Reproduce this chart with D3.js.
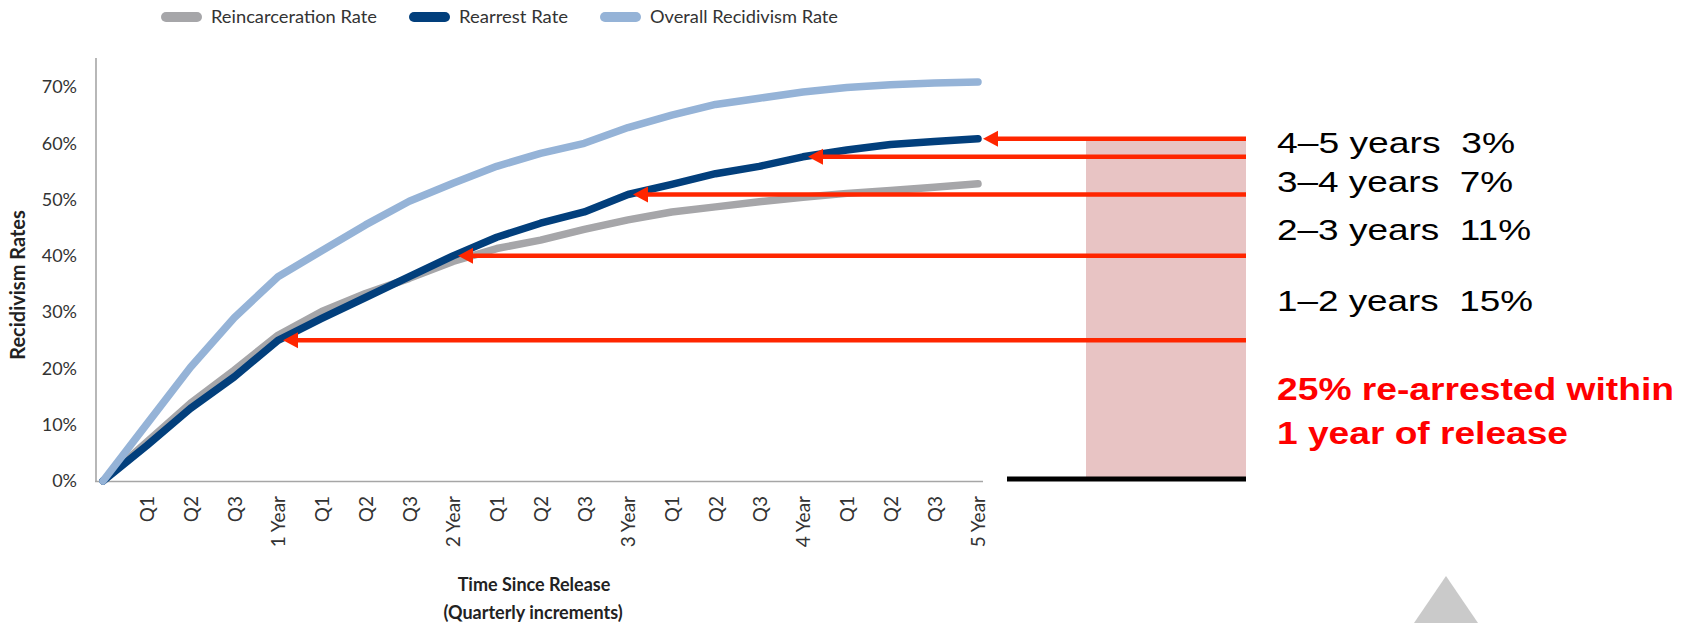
<!DOCTYPE html>
<html>
<head>
<meta charset="utf-8">
<script src="https://cdn.jsdelivr.net/npm/d3@7"></script>
<style>
  html, body { margin: 0; padding: 0; background: #fff; }
  svg { display: block; }
  text { white-space: pre; }
</style>
</head>
<body>
<svg id="chart" width="1692" height="623"></svg>
<script>
// Quarters since release (0 = release, 20 = five years)
const quarters = d3.range(0, 21);
const quarterLabels = ["Q1", "Q2", "Q3", "1 Year", "Q1", "Q2", "Q3", "2 Year", "Q1", "Q2", "Q3", "3 Year",
                       "Q1", "Q2", "Q3", "4 Year", "Q1", "Q2", "Q3", "5 Year"];
const yTicks = [0, 10, 20, 30, 40, 50, 60, 70];

// Cumulative rates, percent
const reincarceration = [0, 6.9, 13.8, 19.7, 25.9, 30.1, 33.3, 36.0, 39.0, 41.3, 42.8,
                         44.7, 46.4, 47.8, 48.7, 49.6, 50.4, 51.1, 51.6, 52.2, 52.8];
const rearrest = [0, 6.3, 12.9, 18.5, 25.0, 28.9, 32.6, 36.3, 40.0, 43.3, 45.8,
                  47.8, 50.9, 52.7, 54.6, 55.9, 57.6, 58.8, 59.8, 60.3, 60.8];
const overall = [0, 10.1, 20.2, 29.0, 36.3, 40.9, 45.5, 49.7, 52.9, 55.9, 58.2,
                 60.0, 62.8, 65.0, 66.9, 68.0, 69.1, 69.9, 70.4, 70.7, 70.9];

const seriesNames = ["Reincarceration Rate", "Rearrest Rate", "Overall Recidivism Rate"];
const seriesColors = ["#a6a6a9", "#023f7c", "#95b3d7"];

// Year-by-year increments called out on the right
const calloutYears = [5, 4, 3, 2];
const calloutLabels = ["4\u20135 years  3%", "3\u20134 years  7%", "2\u20133 years  11%", "1\u20132 years  15%"];
const headline = ["25% re-arrested within", "1 year of release"];

const svg = d3.select("#chart");
const font = "Lato, 'Open Sans', sans-serif";

const x = d3.scaleLinear().domain([0, 20]).range([103, 978]);
const y = d3.scaleLinear().domain([0, 70]).range([481, 87]);

// Axes lines
svg.append("line").attr("x1", 96).attr("x2", 96).attr("y1", 58).attr("y2", 481.5)
  .attr("stroke", "#a6a6a6").attr("stroke-width", 1.6);
svg.append("line").attr("x1", 95).attr("x2", 983).attr("y1", 481.5).attr("y2", 481.5)
  .attr("stroke", "#a6a6a6").attr("stroke-width", 1.6);

// Y axis labels
const yAxis = svg.append("g").attr("transform", "translate(96,0)")
  .call(d3.axisLeft(y).tickValues(yTicks).tickSize(0).tickPadding(19).tickFormat(d => d + "%"));
yAxis.select(".domain").remove();
yAxis.selectAll("text").attr("font-family", font).attr("font-size", 18).attr("fill", "#333");

// X axis labels, rotated
const xAxis = svg.append("g").attr("transform", "translate(0,481)")
  .call(d3.axisBottom(x).tickValues(quarters.slice(1)).tickSize(0)
    .tickFormat(d => quarterLabels[d - 1]));
xAxis.select(".domain").remove();
xAxis.selectAll("text")
  .attr("font-family", font).attr("font-size", 19).attr("fill", "#333")
  .attr("transform", "rotate(-90)")
  .attr("text-anchor", "end")
  .attr("x", -15).attr("y", 0).attr("dy", "0.36em");

// Axis titles
svg.append("text")
  .attr("transform", "translate(25,285) rotate(-90)")
  .attr("text-anchor", "middle")
  .attr("font-family", font).attr("font-weight", "bold").attr("font-size", 20).attr("fill", "#222")
  .text("Recidivism Rates");
svg.append("text").attr("x", 534).attr("y", 591).attr("text-anchor", "middle")
  .attr("font-family", font).attr("font-weight", "bold").attr("font-size", 18).attr("fill", "#222")
  .text("Time Since Release");
svg.append("text").attr("x", 533).attr("y", 619).attr("text-anchor", "middle")
  .attr("font-family", font).attr("font-weight", "bold").attr("font-size", 18).attr("fill", "#222")
  .text("(Quarterly increments)");

// Legend
const legendX = [161, 409, 600];
const legendW = [166, 109, 188];
seriesNames.forEach((name, k) => {
  svg.append("rect").attr("x", legendX[k]).attr("y", 12).attr("width", 41).attr("height", 10)
    .attr("rx", 5).attr("fill", seriesColors[k]);
  svg.append("text").attr("x", legendX[k] + 50).attr("y", 23)
    .attr("font-family", font).attr("font-size", 18).attr("fill", "#333")
    .attr("textLength", legendW[k]).attr("lengthAdjust", "spacingAndGlyphs")
    .text(name);
});

// Series lines
const line = d3.line().x((d, i) => x(i)).y(d => y(d));
[reincarceration, rearrest, overall].forEach((vals, k) => {
  svg.append("path").datum(vals).attr("d", line)
    .attr("fill", "none").attr("stroke", seriesColors[k]).attr("stroke-width", 7.5)
    .attr("stroke-linecap", "round").attr("stroke-linejoin", "round");
});

// Shaded band and baseline on the right
const bandLeft = 1086, bandRight = 1246;
svg.append("rect").attr("x", bandLeft).attr("y", y(rearrest[20]) + 1)
  .attr("width", bandRight - bandLeft).attr("height", 477 - y(rearrest[20]) - 1)
  .attr("fill", "#e8c4c4");
svg.append("line").attr("x1", 1007).attr("x2", bandRight).attr("y1", 479).attr("y2", 479)
  .attr("stroke", "#000").attr("stroke-width", 5);

// Arrows pointing at the rearrest rate at each full year
const red = "#ff2600";
[1, 2, 3, 4, 5].forEach(yr => {
  const yy = y(rearrest[yr * 4]);
  const tip = x(yr * 4) + 5;
  const headLen = 15, headHalf = 8;
  svg.append("line").attr("x1", tip + headLen - 1).attr("x2", bandRight)
    .attr("y1", yy).attr("y2", yy).attr("stroke", red).attr("stroke-width", 4.5);
  svg.append("path")
    .attr("d", `M${tip},${yy} L${tip + headLen},${yy - headHalf} L${tip + headLen},${yy + headHalf} Z`)
    .attr("fill", red);
});

// Increment labels
const calloutBase = [153, 192, 240, 311];
const calloutWidth = [238, 236, 254, 256];
calloutLabels.forEach((t, k) => {
  svg.append("text").attr("x", 1277).attr("y", calloutBase[k])
    .attr("font-family", "'Liberation Sans', Arial, sans-serif").attr("font-size", 30).attr("fill", "#000")
    .attr("textLength", calloutWidth[k]).attr("lengthAdjust", "spacingAndGlyphs")
    .text(t);
});
const headBase = [400, 444];
const headWidth = [397, 291];
headline.forEach((t, k) => {
  svg.append("text").attr("x", 1277).attr("y", headBase[k])
    .attr("font-family", "'Liberation Sans', Arial, sans-serif").attr("font-weight", "bold")
    .attr("font-size", 31).attr("fill", "#ff0000")
    .attr("textLength", headWidth[k]).attr("lengthAdjust", "spacingAndGlyphs")
    .text(t);
});

// Grey triangle marker at the bottom edge
svg.append("path").attr("d", "M1446,576 L1478,623 L1414,623 Z").attr("fill", "#cacaca");
</script>
</body>
</html>
